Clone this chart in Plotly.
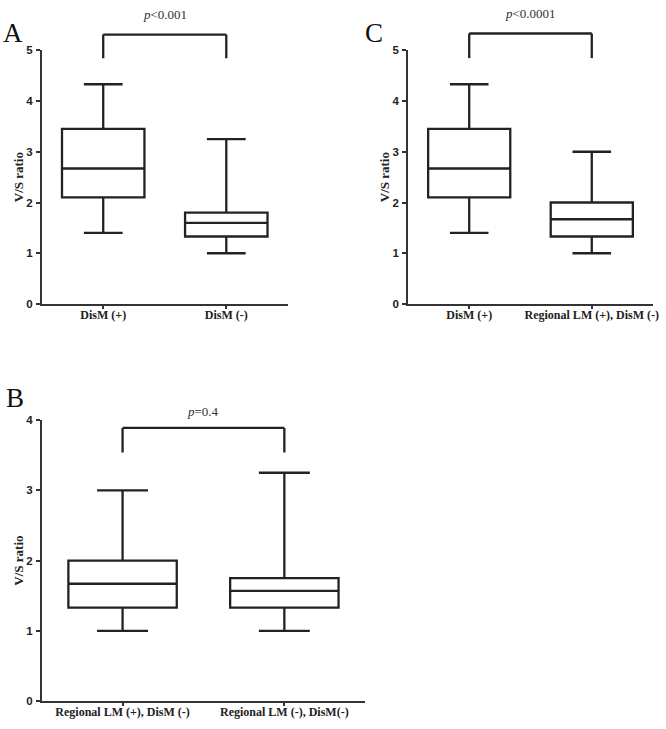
import plotly.graph_objects as go

# ---------------- data ----------------
cats_A = ["DisM (+)", "DisM (-)"]
low_A = [1.4, 1.0]
q1_A = [2.1, 1.33]
med_A = [2.67, 1.6]
q3_A = [3.45, 1.8]
up_A = [4.33, 3.25]
p_A = "<i>p</i>&lt;0.001"

cats_C = ["DisM (+)", "Regional LM (+), DisM (-)"]
low_C = [1.4, 1.0]
q1_C = [2.1, 1.33]
med_C = [2.67, 1.67]
q3_C = [3.45, 2.0]
up_C = [4.33, 3.0]
p_C = "<i>p</i>&lt;0.0001"

cats_B = ["Regional LM (+), DisM (-)", "Regional LM (-), DisM(-)"]
low_B = [1.0, 1.0]
q1_B = [1.33, 1.33]
med_B = [1.67, 1.57]
q3_B = [2.0, 1.75]
up_B = [3.0, 3.25]
p_B = "<i>p</i>=0.4"

yticks_AC = [0, 1, 2, 3, 4, 5]
yticks_B = [0, 1, 2, 3, 4]

W, H = 666, 729
INK = "#222222"
AX = "#333333"
SERIF = "Liberation Serif"
SANS = "Liberation Sans"

panels = [
    dict(ax="", cats=cats_A, low=low_A, q1=q1_A, med=med_A, q3=q3_A, up=up_A, p=p_A,
         yt=yticks_AC, xd=[42 / W, 290 / W], yd=[1 - 303 / H, 1 - 45 / H],
         br=1.062, leg=0.969, pt=1.14, letter="A", lx=13 / W, ly=1 - 27 / H),
    dict(ax="2", cats=cats_C, low=low_C, q1=q1_C, med=med_C, q3=q3_C, up=up_C, p=p_C,
         yt=yticks_AC, xd=[411 / W, 658 / W], yd=[1 - 303 / H, 1 - 45 / H],
         br=1.066, leg=0.969, pt=1.145, letter="C", lx=377 / W, ly=1 - 27 / H),
    dict(ax="3", cats=cats_B, low=low_B, q1=q1_B, med=med_B, q3=q3_B, up=up_B, p=p_B,
         yt=yticks_B, xd=[42 / W, 368 / W], yd=[1 - 706.7 / H, 1 - 421 / H],
         br=0.972, leg=0.885, pt=1.03, letter="B", lx=15 / W, ly=1 - 399 / H),
]

fig = go.Figure()
shapes = []
annotations = []
layout = {}

for P in panels:
    xa = "x" + P["ax"]
    ya = "y" + P["ax"]
    fig.add_trace(go.Box(
        x=P["cats"], q1=P["q1"], median=P["med"], q3=P["q3"],
        lowerfence=P["low"], upperfence=P["up"],
        xaxis=xa, yaxis=ya,
        fillcolor="white", line=dict(color=INK, width=2.3),
        whiskerwidth=0.47, width=0.67, boxpoints=False,
        showlegend=False, hoverinfo="skip",
    ))
    layout["xaxis" + P["ax"]] = dict(
        domain=P["xd"], anchor=ya, type="category", range=[-0.5, 1.5],
        showline=True, linecolor=AX, linewidth=1.6, showgrid=False, zeroline=False,
        ticks="outside", ticklen=3, tickwidth=1.5, tickcolor=AX,
        ticklabelstandoff=-4,
        tickfont=dict(family=SERIF, size=12, color=INK, weight="bold"),
        fixedrange=True,
    )
    layout["yaxis" + P["ax"]] = dict(
        domain=P["yd"], anchor=xa, range=[0, max(P["yt"])],
        tickvals=P["yt"], showline=True, linecolor=AX, linewidth=1.6,
        showgrid=False, zeroline=False,
        ticks="outside", ticklen=4, tickwidth=1.5, tickcolor=AX,
        ticklabelstandoff=1,
        tickfont=dict(family=SANS, size=11.5, color=INK, weight="bold"),
        title=dict(text="V/S ratio", standoff=0,
                   font=dict(family=SERIF, size=13, color=INK, weight="bold")),
        fixedrange=True,
    )
    # significance bracket
    yref = ya + " domain"
    for (x0, y0, x1, y1) in [
        (P["cats"][0], P["leg"], P["cats"][0], P["br"]),
        (P["cats"][0], P["br"], P["cats"][1], P["br"]),
        (P["cats"][1], P["br"], P["cats"][1], P["leg"]),
    ]:
        shapes.append(dict(type="line", xref=xa, yref=yref, x0=x0, x1=x1, y0=y0, y1=y1,
                           line=dict(color=INK, width=2.3)))
    annotations.append(dict(
        text=P["p"], xref=xa, yref=yref, x=0.5, y=P["pt"],
        showarrow=False, font=dict(family=SERIF, size=13, color="#333333"),
        xanchor="center", yanchor="middle",
    ))
    annotations.append(dict(
        text=P["letter"], xref="paper", yref="paper", x=P["lx"], y=P["ly"],
        showarrow=False, font=dict(family=SERIF, size=27, color="#111111"),
        xanchor="center", yanchor="middle",
    ))

fig.update_layout(
    width=W, height=H, autosize=False,
    margin=dict(l=0, r=0, t=0, b=0),
    paper_bgcolor="white", plot_bgcolor="white",
    shapes=shapes, annotations=annotations,
    **layout,
)

fig.write_html("out.html", config={"displayModeBar": False},
               post_script="document.body.style.margin='0px';")
